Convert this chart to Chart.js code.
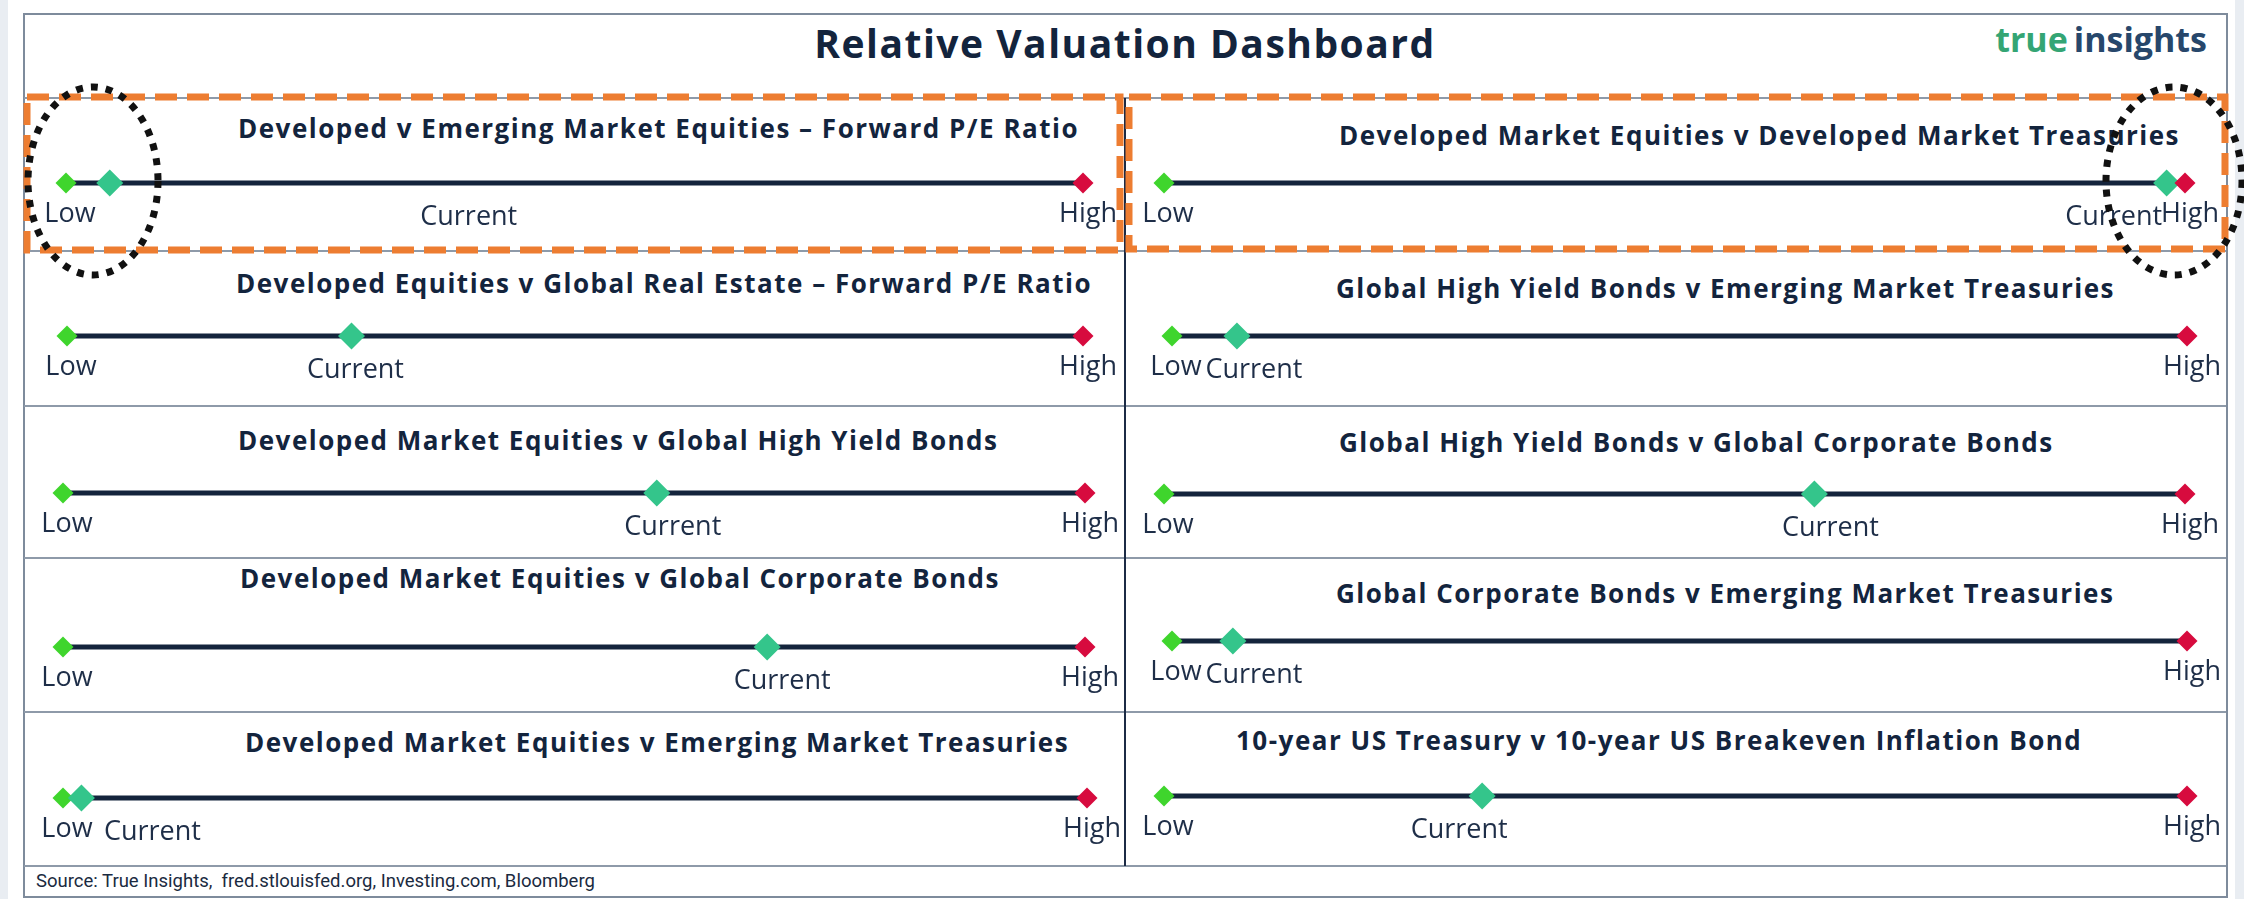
<!DOCTYPE html>
<html>
<head>
<meta charset="utf-8">
<title>Relative Valuation Dashboard</title>
<script src="https://cdn.jsdelivr.net/npm/chart.js@4.4.1/dist/chart.umd.min.js"></script>
<style>
  html, body { margin: 0; padding: 0; }
  body {
    position: relative;
    width: 2244px;
    height: 899px;
    overflow: hidden;
    background: #fff;
    font-family: "Open Sans", sans-serif;
  }
  .strip { position: absolute; top: 0; bottom: 0; background: #e9edf2; }
  .frame {
    position: absolute; left: 23px; top: 13px; width: 2205px; height: 885px;
    box-sizing: border-box; border: 2px solid #7e8b9c;
  }
  .hline { position: absolute; left: 24px; width: 2202px; height: 2px; background: #8e9aa9; }
  .vline { position: absolute; left: 1124px; top: 98px; width: 2px; height: 768px; background: #1c2b45; }
  .main-title {
    position: absolute; left: 525px; top: 17px; width: 1200px; text-align: center;
    font-size: 39px; line-height: 52px; font-weight: 700; letter-spacing: 1.5px;
    color: #13243d; white-space: nowrap;
  }
  .logo {
    position: absolute; right: 37px; top: 17px; font-size: 34px; line-height: 45px;
    font-weight: 700; letter-spacing: 0; white-space: nowrap;
  }
  .logo .t { color: #34a574; margin-right: 6px; }
  .logo .i { color: #27476b; }
  .panel-title {
    position: absolute; font-size: 26px; line-height: 34px; font-weight: 700;
    letter-spacing: 1.5px; color: #13243d; white-space: nowrap;
  }
  .panel-chart { position: absolute; }
  .source {
    position: absolute; left: 36px; top: 870px; font-family: Roboto, sans-serif;
    font-size: 18.5px; line-height: 22px; color: #1a2a40; white-space: pre;
  }
  svg.overlay { position: absolute; left: 0; top: 0; pointer-events: none; }
</style>
</head>
<body>
<div class="strip" style="left:0;width:8px"></div>
<div class="strip" style="left:2235px;width:9px"></div>
<div class="frame"></div>
<div class="main-title">Relative Valuation Dashboard</div>
<div class="logo"><span class="t">true</span><span class="i">insights</span></div>
<div class="source">Source: True Insights,  fred.stlouisfed.org, Investing.com, Bloomberg</div>

<script>
'use strict';

// panels in reading order: left, right, left, right ...
const panelTitles = [
    'Developed v Emerging Market Equities – Forward P/E Ratio',
    'Developed Market Equities v Developed Market Treasuries',
    'Developed Equities v Global Real Estate – Forward P/E Ratio',
    'Global High Yield Bonds v Emerging Market Treasuries',
    'Developed Market Equities v Global High Yield Bonds',
    'Global High Yield Bonds v Global Corporate Bonds',
    'Developed Market Equities v Global Corporate Bonds',
    'Global Corporate Bonds v Emerging Market Treasuries',
    'Developed Market Equities v Emerging Market Treasuries',
    '10-year US Treasury v 10-year US Breakeven Inflation Bond'
];

// where "Current" sits between the historic low (0) and high (100)
const currentPct = [4.3, 98.2, 28, 6.4, 58.1, 63.7, 68.9, 6.0, 1.8, 31.1];

const markerLabels = ['Low', 'Current', 'High'];

// ---- layout (pixels) ----
const rowTops = [98, 251, 406, 558, 712, 866];
const colLefts = [24, 1125];
const panelW = 1101;
// title x, title centre y, line y, low x, high x  (relative to the panel)
const panelLayout = [
    [214, 31, 85, 42, 1059],
    [214, 38, 85, 39, 1060],
    [212, 33, 85, 43, 1059],
    [211, 38, 85, 47, 1062],
    [214, 35, 87, 39, 1061],
    [214, 37, 88, 39, 1060],
    [216, 21, 89, 39, 1061],
    [211, 36, 83, 47, 1062],
    [221, 31, 86, 39, 1063],
    [111, 29, 84, 39, 1062]
];
// the "Current" text boxes are not always right under the marker
const currentLabelShift = [359, -53, 4, 17, 16, 16, 15, 21, 71, -23];

const NAVY = '#14243c';
const LOW_GREEN = '#3fd52d';
const CURRENT_GREEN = '#34c58b';
const HIGH_RED = '#d70b3e';
const LABEL_COLOR = '#1e2e48';

const markerText = {
    id: 'markerText',
    afterDatasetsDraw(chart, args, opts) {
        const { ctx } = chart;
        const xScale = chart.scales.x;
        const yScale = chart.scales.y;
        const points = chart.data.datasets[0].data;
        const y0 = yScale.getPixelForValue(0);
        const xs = [
            xScale.getPixelForValue(points[0].x) + 4,
            xScale.getPixelForValue(points[1].x) + opts.shift,
            xScale.getPixelForValue(points[2].x) + 5
        ];
        ctx.save();
        ctx.font = '27px "Open Sans"';
        ctx.fillStyle = LABEL_COLOR;
        ctx.textAlign = 'center';
        ctx.textBaseline = 'alphabetic';
        markerLabels.forEach((text, k) => {
            ctx.fillText(text, xs[k], y0 + (k === 1 ? 42 : 39));
        });
        ctx.restore();
    }
};

function addLine(cls, style) {
    const el = document.createElement('div');
    el.className = cls;
    Object.assign(el.style, style);
    document.body.appendChild(el);
}

function makePanel(i) {
    const col = i % 2;
    const row = Math.floor(i / 2);
    const left = colLefts[col];
    const top = rowTops[row];
    const height = rowTops[row + 1] - top;
    const [titleX, titleY, lineY, lowX, highX] = panelLayout[i];

    const title = document.createElement('div');
    title.className = 'panel-title';
    title.textContent = panelTitles[i];
    title.style.left = (left + titleX) + 'px';
    title.style.top = (top + titleY - 18) + 'px';
    document.body.appendChild(title);

    const canvas = document.createElement('canvas');
    canvas.className = 'panel-chart';
    canvas.width = panelW;
    canvas.height = height;
    canvas.style.left = left + 'px';
    canvas.style.top = top + 'px';
    canvas.setAttribute('role', 'img');
    canvas.setAttribute('aria-label', panelTitles[i]);
    document.body.appendChild(canvas);

    new Chart(canvas, {
        type: 'scatter',
        data: {
            datasets: [{
                data: [
                    { x: 0, y: 0 },
                    { x: currentPct[i], y: 0 },
                    { x: 100, y: 0 }
                ],
                showLine: true,
                borderColor: NAVY,
                borderWidth: 5,
                pointStyle: 'rectRot',
                pointRadius: [10.5, 13.5, 10.5],
                pointBorderWidth: 0,
                pointBackgroundColor: [LOW_GREEN, CURRENT_GREEN, HIGH_RED],
                clip: false
            }]
        },
        options: {
            responsive: false,
            animation: false,
            events: [],
            layout: {
                padding: { left: lowX, right: panelW - highX, top: lineY - 20, bottom: height - lineY - 20 }
            },
            scales: {
                x: { type: 'linear', min: 0, max: 100, display: false },
                y: { min: -1, max: 1, display: false }
            },
            plugins: {
                legend: { display: false },
                tooltip: { enabled: false },
                markerText: { shift: currentLabelShift[i] }
            }
        },
        plugins: [markerText]
    });
}

rowTops.forEach(y => addLine('hline', { top: (y - 1) + 'px' }));
addLine('vline', {});
panelTitles.forEach((t, i) => makePanel(i));
</script>

<svg class="overlay" width="2244" height="899">
  <rect x="27" y="97" width="1093" height="153" fill="none" stroke="#ED7D31" stroke-width="7" stroke-dasharray="22 10"/>
  <rect x="1129" y="97" width="1096" height="152" fill="none" stroke="#ED7D31" stroke-width="7" stroke-dasharray="22 10"/>
  <ellipse cx="93" cy="181" rx="65" ry="94" fill="none" stroke="#111" stroke-width="7" stroke-dasharray="7 8"/>
  <ellipse cx="2174" cy="181" rx="68" ry="94" fill="none" stroke="#111" stroke-width="7" stroke-dasharray="7 8"/>
</svg>
</body>
</html>
